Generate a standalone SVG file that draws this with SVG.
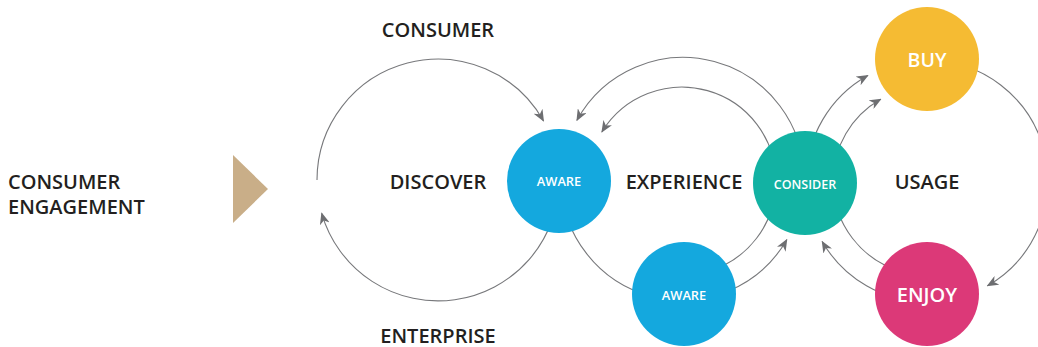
<svg xmlns="http://www.w3.org/2000/svg" width="1038" height="347" viewBox="0 0 1038 347">
<defs>
<marker id="ah" viewBox="0 0 12 10" refX="11" refY="5" markerWidth="12" markerHeight="10" markerUnits="userSpaceOnUse" orient="auto">
<path d="M0,0 L12,5 L0,10 L3.5,5 z" fill="#6d6e71"/>
</marker>
<style>
.c{fill:none;stroke:#77787b;stroke-width:1.1}
.a{marker-end:url(#ah)}
.lbl{font-family:"Open Sans","Liberation Sans",sans-serif;font-weight:600;fill:#231f20;font-size:20px;text-anchor:middle}
.nl{font-family:"Open Sans","Liberation Sans",sans-serif;font-weight:600;fill:#ffffff;text-anchor:middle}
</style>
</defs>
<rect width="1038" height="347" fill="#ffffff"/>
<g id="connectors">
<path class="c a" d="M317,180 A121,121 0 0 1 543.5,120.9"/>
<path class="c a" d="M559,180 A121,121 0 0 1 321.7,213.3"/>
<path class="c a" d="M804,181 A121,121 0 0 0 576.9,120.3"/>
<path class="c a" d="M776,181 A94,94 0 0 0 601.9,131.9"/>
<path class="c a" d="M561,181 A121,121 0 0 0 786.8,239.7"/>
<path class="c" d="M706.3,271.8 A94,94 0 0 0 776,181"/>
<path class="c a" d="M806,181 A121,121 0 0 1 867.8,75.5"/>
<path class="c a" d="M833,181 A94,94 0 0 1 880.7,99.2"/>
<path class="c a" d="M927,60 A121,121 0 0 1 987.5,285.8"/>
<path class="c a" d="M927,302 A121,121 0 0 1 822.2,241.5"/>
<path class="c" d="M902.7,271.8 A94,94 0 0 1 833,181"/>
</g>
<g id="labels">
<text class="lbl" x="438" y="37">CONSUMER</text>
<text class="lbl" x="438" y="343">ENTERPRISE</text>
<text class="lbl" x="438" y="189">DISCOVER</text>
<text class="lbl" x="684" y="189">EXPERIENCE</text>
<text class="lbl" x="927" y="189">USAGE</text>
</g>
<g id="engagement">
<text class="lbl" style="text-anchor:start" x="8" y="189">CONSUMER</text>
<text class="lbl" style="text-anchor:start" x="8" y="214">ENGAGEMENT</text>
<polygon points="233,155 268,189 233,223" fill="#c9ae88"/>
</g>
<g id="aware1">
<circle cx="559" cy="181" r="52" fill="#14a8de"/>
<text class="nl" x="559" y="186" font-size="12.8">AWARE</text>
</g>
<g id="aware2">
<circle cx="684" cy="294" r="52" fill="#14a8de"/>
<text class="nl" x="684" y="300" font-size="12.8">AWARE</text>
</g>
<g id="consider">
<circle cx="805" cy="183" r="52" fill="#12b2a3"/>
<text class="nl" x="805" y="189" font-size="12.5">CONSIDER</text>
</g>
<g id="buy">
<circle cx="927" cy="59" r="52" fill="#f5bb33"/>
<text class="nl" x="927" y="67" font-size="19.5">BUY</text>
</g>
<g id="enjoy">
<circle cx="927" cy="294" r="52" fill="#dc3978"/>
<text class="nl" x="927" y="302" font-size="20">ENJOY</text>
</g>
</svg>
